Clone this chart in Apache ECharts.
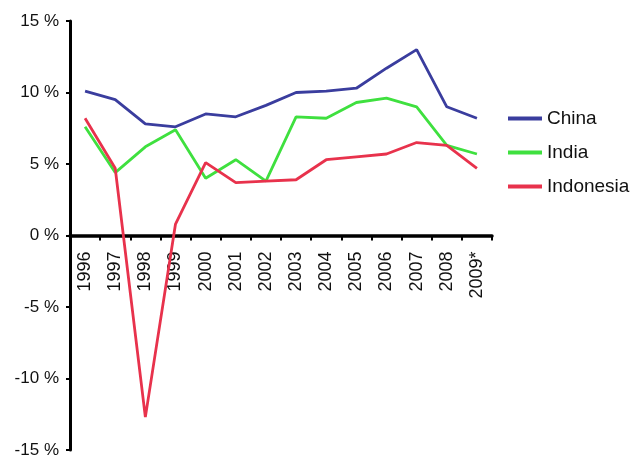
<!DOCTYPE html>
<html>
<head>
<meta charset="utf-8">
<script src="https://cdn.jsdelivr.net/npm/echarts@6/dist/echarts.min.js"></script>
<style>html,body{margin:0;padding:0;background:#fff}#c{width:636px;height:461px}</style>
</head>
<body>
<div id="c"></div>
<script>
var years = ['1996','1997','1998','1999','2000','2001','2002','2003','2004','2005','2006','2007','2008','2009*'];
var china = [10.1, 9.5, 7.8, 7.6, 8.5, 8.3, 9.1, 10.0, 10.1, 10.3, 11.7, 13.0, 9.0, 8.2];
var india = [7.6, 4.4, 6.2, 7.4, 4.0, 5.3, 3.8, 8.3, 8.2, 9.3, 9.6, 9.0, 6.3, 5.7];
var indonesia = [8.2, 4.7, -12.7, 0.8, 5.1, 3.7, 3.8, 3.9, 5.3, 5.5, 5.7, 6.5, 6.3, 4.7];
var yTicks = { min: -15, max: 15, step: 5 };

var chart = echarts.init(document.getElementById('c'));
var font = '"Liberation Sans", Arial, sans-serif';
var gridTop = 21, gridBottom = 11, chartH = 461;
var gridH = chartH - gridTop - gridBottom;
var zeroOffset = -gridH * (0 - yTicks.min) / (yTicks.max - yTicks.min);

function line(name, data, color) {
  return { name: name, type: 'line', data: data, symbol: 'none', smooth: false,
    lineStyle: { color: color, width: 2.8 }, itemStyle: { color: color } };
}
chart.setOption({
  animation: false,
  grid: { left: 70, right: 144, top: gridTop, bottom: gridBottom, containLabel: false, outerBoundsMode: 'none' },
  legend: {
    orient: 'vertical', left: 503, top: 104, itemGap: 15,
    icon: 'rect', itemWidth: 34, itemHeight: 4,
    textStyle: { fontFamily: font, fontSize: 19, color: '#111' },
    data: ['China', 'India', 'Indonesia']
  },
  xAxis: {
    type: 'category', data: years, boundaryGap: true, position: 'bottom', offset: zeroOffset,
    axisLine: { onZero: false, lineStyle: { color: '#000', width: 3.5 } },
    axisTick: { show: true, length: 5, lineStyle: { color: '#000', width: 2 } },
    axisLabel: { rotate: 90, fontFamily: font, fontSize: 18, color: '#111', margin: 16, interval: 0 },
    splitLine: { show: false }
  },
  yAxis: {
    type: 'value', min: yTicks.min, max: yTicks.max, interval: yTicks.step,
    axisLine: { show: true, lineStyle: { color: '#000', width: 3 } },
    axisTick: { show: true, length: 4, lineStyle: { color: '#000', width: 2 } },
    axisLabel: { fontFamily: font, fontSize: 17, color: '#111', margin: 11,
      formatter: function (v) { return v + ' %'; } },
    splitLine: { show: false }
  },
  series: [
    line('China', china, '#3a3d9e'),
    line('India', india, '#3fe03f'),
    line('Indonesia', indonesia, '#e8324c')
  ]
});
</script>
</body>
</html>
